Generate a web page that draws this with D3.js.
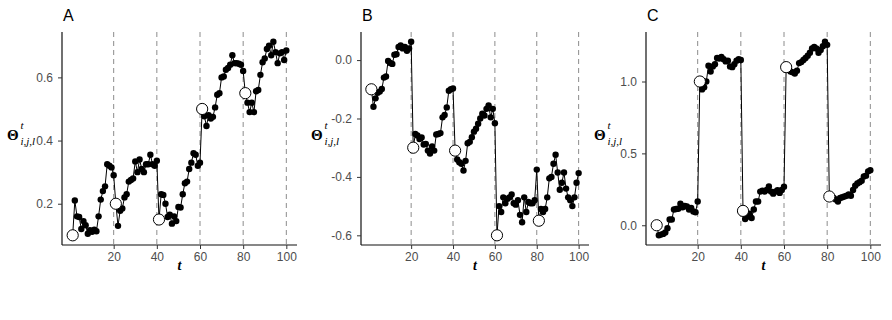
<!DOCTYPE html>
<html>
<head>
<meta charset="utf-8">
<script src="https://cdn.jsdelivr.net/npm/d3@7"></script>
<style>
  body { margin: 0; background: #fff; }
  svg { display: block; }
  text { font-family: "Liberation Sans", Arial, sans-serif; }
</style>
</head>
<body>
<div id="myPlot"></div>
<script>
// Data
const tSteps = d3.range(1, 101);
const changeT = [20, 40, 60, 80, 100];
const resetT = [1, 21, 41, 61, 81];
const xTicks = [20, 40, 60, 80, 100];

const thetaA = [
  0.10, 0.21, 0.16, 0.158, 0.12, 0.145, 0.132, 0.105, 0.116, 0.111, 0.118, 0.113, 0.16, 0.213, 0.24, 0.255, 0.325, 0.32, 0.315, 0.29,
  0.20, 0.13, 0.178, 0.185, 0.22, 0.23, 0.27, 0.275, 0.28, 0.334, 0.30, 0.34, 0.31, 0.30, 0.325, 0.325, 0.355, 0.325, 0.32, 0.336,
  0.15, 0.23, 0.228, 0.20, 0.158, 0.165, 0.137, 0.16, 0.145, 0.19, 0.188, 0.23, 0.265, 0.27, 0.31, 0.33, 0.36, 0.355, 0.32, 0.33,
  0.50, 0.477, 0.446, 0.48, 0.47, 0.475, 0.505, 0.545, 0.55, 0.60, 0.603, 0.624, 0.63, 0.64, 0.67, 0.645, 0.645, 0.643, 0.64, 0.62,
  0.55, 0.52, 0.49, 0.52, 0.49, 0.556, 0.56, 0.608, 0.648, 0.66, 0.69, 0.70, 0.67, 0.713, 0.68, 0.645, 0.676, 0.68, 0.655, 0.685
];
const thetaB = [
  -0.10, -0.16, -0.131, -0.112, -0.108, -0.099, -0.06, -0.056, -0.003, -0.01, -0.013, 0.018, 0.02, 0.045, 0.05, 0.04, 0.045, 0.032, 0.04, 0.063,
  -0.30, -0.253, -0.258, -0.27, -0.265, -0.289, -0.287, -0.31, -0.32, -0.296, -0.31, -0.255, -0.253, -0.25, -0.196, -0.188, -0.162, -0.105, -0.10, -0.097,
  -0.31, -0.34, -0.35, -0.355, -0.378, -0.345, -0.285, -0.28, -0.264, -0.245, -0.235, -0.218, -0.20, -0.184, -0.19, -0.167, -0.155, -0.196, -0.167, -0.216,
  -0.60, -0.50, -0.52, -0.47, -0.49, -0.475, -0.47, -0.46, -0.49, -0.495, -0.48, -0.53, -0.555, -0.47, -0.52, -0.486, -0.49, -0.49, -0.48, -0.375,
  -0.55, -0.51, -0.52, -0.51, -0.47, -0.405, -0.40, -0.355, -0.324, -0.385, -0.444, -0.42, -0.385, -0.44, -0.47, -0.48, -0.50, -0.47, -0.42, -0.387
];
const thetaC = [
  0.0, -0.07, -0.065, -0.06, -0.05, -0.02, 0.04, 0.04, 0.11, 0.113, 0.115, 0.15, 0.125, 0.135, 0.13, 0.11, 0.12, 0.096, 0.09, 0.165,
  1.0, 0.945, 0.96, 1.0, 1.11, 1.07, 1.105, 1.12, 1.163, 1.16, 1.17, 1.155, 1.14, 1.145, 1.105, 1.10, 1.12, 1.145, 1.155, 1.15,
  0.10, 0.044, 0.06, 0.08, 0.05, 0.11, 0.165, 0.165, 0.234, 0.24, 0.234, 0.245, 0.27, 0.234, 0.22, 0.234, 0.243, 0.225, 0.245, 0.268,
  1.10, 1.085, 1.07, 1.065, 1.055, 1.075, 1.128, 1.135, 1.15, 1.163, 1.18, 1.20, 1.23, 1.24, 1.23, 1.20, 1.22, 1.245, 1.277, 1.255,
  0.20, 0.20, 0.19, 0.18, 0.165, 0.19, 0.195, 0.20, 0.205, 0.215, 0.205, 0.245, 0.275, 0.29, 0.30, 0.31, 0.34, 0.345, 0.375, 0.383
];

// values at the reset points (open circles)
const trueA = [0.10, 0.20, 0.15, 0.50, 0.55];
const trueB = [-0.10, -0.30, -0.31, -0.60, -0.55];
const trueC = [0.0, 1.0, 0.10, 1.10, 0.20];

const yTicksA = [0.2, 0.4, 0.6];
const yTicksB = [-0.6, -0.4, -0.2, 0.0];
const yTicksC = [0.0, 0.5, 1.0];

// Panel layout
const panels = [
  { tag: "A", values: thetaA, truth: trueA, ticks: yTicksA, left: 62, right: 297, ylab: 7 },
  { tag: "B", values: thetaB, truth: trueB, ticks: yTicksB, left: 361, right: 589, ylab: 311 },
  { tag: "C", values: thetaC, truth: trueC, ticks: yTicksC, left: 646, right: 881, ylab: 594 }
];
const plotTop = 32;
const plotBottom = 245;

const svg = d3.select("#myPlot")
  .append("svg")
  .attr("width", 892)
  .attr("height", 320);

panels.forEach(function (p) {
  const g = svg.append("g");

  // X scale (ggplot style 5% expansion)
  const xSpan = 100 - 1;
  const x = d3.scaleLinear()
    .domain([1 - xSpan * 0.05, 100 + xSpan * 0.05])
    .range([p.left, p.right]);

  // Y scale
  const ext = d3.extent(p.values.concat(p.truth));
  const pad = (ext[1] - ext[0]) * 0.05;
  const y = d3.scaleLinear()
    .domain([ext[0] - pad, ext[1] + pad])
    .range([plotBottom, plotTop]);

  // dashed change points
  g.append("g")
    .selectAll("line")
    .data(changeT).enter()
    .append("line")
    .attr("x1", d => x(d))
    .attr("x2", d => x(d))
    .attr("y1", plotTop)
    .attr("y2", plotBottom)
    .attr("stroke", "#8c8c8c")
    .attr("stroke-width", 1)
    .attr("stroke-dasharray", "5,4");

  // axes
  const xAxis = g.append("g")
    .attr("transform", "translate(0," + plotBottom + ")")
    .call(d3.axisBottom(x).tickValues(xTicks).tickSize(4).tickPadding(3).tickFormat(d3.format("d")));
  const yAxis = g.append("g")
    .attr("transform", "translate(" + p.left + ",0)")
    .call(d3.axisLeft(y).tickValues(p.ticks).tickSize(4).tickPadding(5).tickFormat(d3.format(".1f")));

  [xAxis, yAxis].forEach(function (a) {
    a.select(".domain").attr("stroke", "#111").attr("stroke-width", 1.2);
    a.selectAll(".tick line").attr("stroke", "#333");
    a.selectAll(".tick text")
      .attr("fill", "#4d4d4d")
      .style("font-size", "12px")
      .style("font-family", "'Liberation Sans', Arial, sans-serif");
  });
  yAxis.selectAll(".tick text").text(d => d3.format(".1f")(d).replace("\u2212", "-"));
  yAxis.select(".domain").attr("d", "M0," + plotBottom + "V" + plotTop);
  xAxis.select(".domain").attr("d", "M" + p.left + ",0H" + p.right);

  // series line
  const line = d3.line()
    .x((d, i) => x(tSteps[i]))
    .y(d => y(d));
  g.append("path")
    .datum(p.values)
    .attr("fill", "none")
    .attr("stroke", "#000")
    .attr("stroke-width", 1)
    .attr("d", line);

  // dots
  g.append("g")
    .selectAll("circle")
    .data(p.values).enter()
    .append("circle")
    .attr("cx", (d, i) => x(tSteps[i]))
    .attr("cy", d => y(d))
    .attr("r", 3.2)
    .attr("fill", "#000");

  // open circles at resets
  g.append("g")
    .selectAll("circle")
    .data(p.truth).enter()
    .append("circle")
    .attr("cx", (d, i) => x(resetT[i]))
    .attr("cy", d => y(d))
    .attr("r", 5.6)
    .attr("fill", "#fff")
    .attr("stroke", "#000")
    .attr("stroke-width", 1);

  // panel tag
  g.append("text")
    .attr("x", p.left + 1)
    .attr("y", 20.5)
    .style("font-size", "16px")
    .attr("fill", "#000")
    .text(p.tag);

  // y label: bold Theta with sup t and sub i,j,l
  g.append("text")
    .attr("x", p.ylab)
    .attr("y", 139.5)
    .style("font-family", "'Liberation Serif', 'DejaVu Serif', serif")
    .style("font-weight", "bold")
    .style("font-size", "15px")
    .text("\u0398");
  g.append("text")
    .attr("x", p.ylab + 13.5)
    .attr("y", 128.5)
    .style("font-family", "'Liberation Serif', 'DejaVu Serif', serif")
    .style("font-style", "italic")
    .style("font-size", "11px")
    .text("t");
  g.append("text")
    .attr("x", p.ylab + 13.5)
    .attr("y", 144.5)
    .style("font-family", "'Liberation Serif', 'DejaVu Serif', serif")
    .style("font-style", "italic")
    .style("font-size", "11px")
    .text("i,j,l");

  // x label
  g.append("text")
    .attr("x", (p.left + p.right) / 2)
    .attr("y", 270)
    .attr("text-anchor", "middle")
    .style("font-family", "'Liberation Serif', 'DejaVu Serif', serif")
    .style("font-style", "italic")
    .style("font-weight", "bold")
    .style("font-size", "14px")
    .text("t");
});
</script>
</body>
</html>
